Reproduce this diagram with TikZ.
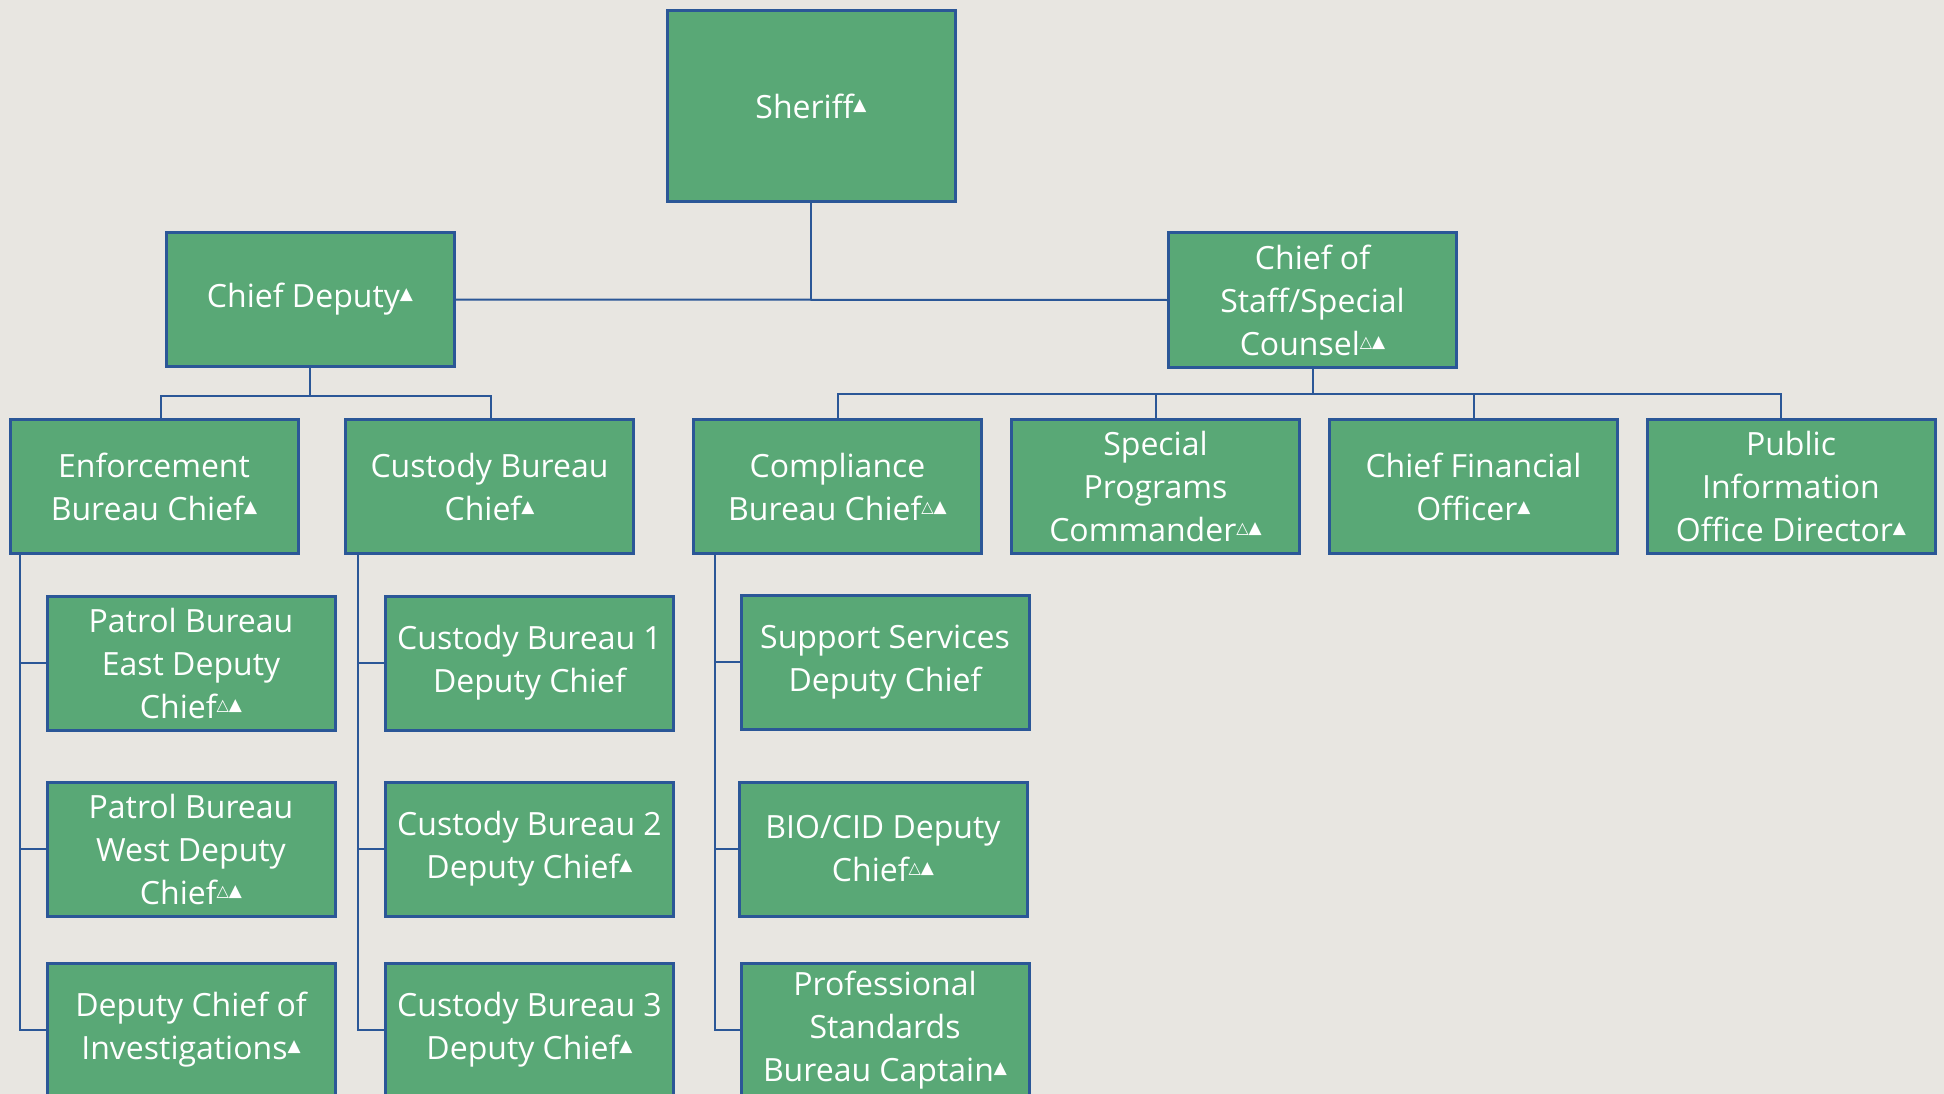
\documentclass[tikz,border=0pt]{standalone}
\usepackage{fontspec}
\setmainfont{Open Sans}
\newfontfamily\symfont{DejaVu Sans}
\definecolor{bg}{HTML}{E8E6E1}
\definecolor{boxgreen}{HTML}{59A876}
\definecolor{edgeblue}{HTML}{2B5797}
\newcommand{\ftri}{\raisebox{8pt}[0pt][0pt]{\symfont\fontsize{17}{17}\selectfont ▲}}
\newcommand{\otri}{\raisebox{8pt}[0pt][0pt]{\symfont\fontsize{16}{16}\selectfont △}}
\begin{document}
\begin{tikzpicture}[x=1pt,y=-1pt,
  orgbox/.style={draw=edgeblue, line width=3pt, fill=boxgreen, text=white,
    minimum width=288pt, minimum height=134pt, align=center, inner sep=0pt,
    font=\fontsize{32}{43}\selectfont},
  link/.style={draw=edgeblue, line width=2pt}]
\fill[bg] (0,0) rectangle (1944,1094);
\useasboundingbox (0,0) rectangle (1944,1094);
% level 0/1
\node[orgbox, minimum height=191pt] (sheriff) at (811,106.5) {Sheriff\ftri};
\node[orgbox] (cd) at (310,299.5) {Chief Deputy\ftri};
\node[orgbox] (cos) at (1312.5,300) {Chief of\\Staff/Special\\Counsel\otri\ftri};
% level 2
\node[orgbox] (enf) at (154,486.5) {Enforcement\\Bureau Chief\ftri};
\node[orgbox] (cust) at (489.5,486.5) {Custody Bureau\\Chief\ftri};
\node[orgbox] (comp) at (837.5,486.5) {Compliance\\Bureau Chief\otri\ftri};
\node[orgbox] (spec) at (1155.5,486.5) {Special\\Programs\\Commander\otri\ftri};
\node[orgbox] (cfo) at (1473.5,486.5) {Chief Financial\\Officer\ftri};
\node[orgbox] (pio) at (1791,486.5) {Public\\Information\\Office Director\ftri};
% level 3
\node[orgbox] (pe) at (191,663) {Patrol Bureau\\East Deputy\\Chief\otri\ftri};
\node[orgbox] (pw) at (191,849) {Patrol Bureau\\West Deputy\\Chief\otri\ftri};
\node[orgbox] (dci) at (191,1030) {Deputy Chief of\\Investigations\ftri};
\node[orgbox] (c1) at (529.5,663) {Custody Bureau 1\\Deputy Chief};
\node[orgbox] (c2) at (529.5,849) {Custody Bureau 2\\Deputy Chief\ftri};
\node[orgbox] (c3) at (529.5,1030) {Custody Bureau 3\\Deputy Chief\ftri};
\node[orgbox] (ss) at (885,662) {Support Services\\Deputy Chief};
\node[orgbox] (bio) at (883,849) {BIO/CID Deputy\\Chief\otri\ftri};
\node[orgbox] (ps) at (885,1030) {Professional\\Standards\\Bureau Captain\ftri};
% coordinates
\coordinate (cdbus) at (310,396);
\coordinate (cosbus) at (1312.5,394);
\coordinate (et) at (20,554);
\coordinate (ct) at (358,554);
\coordinate (mt) at (715,554);
% connectors
\draw[link] (cd.east) -- (cos.west);
\draw[link] (sheriff.south) -- (sheriff.south |- cd.east);
\draw[link] (cd.south) -- (cdbus);
\draw[link] ([xshift=7pt]enf.north) |- (cdbus) -| ([xshift=1pt]cust.north);
\draw[link] (cos.south) -- (cosbus);
\draw[link] (comp.north) |- (cosbus) -| ([xshift=-10pt]pio.north);
\draw[link] (spec.north) -- (spec.north |- cosbus);
\draw[link] (cfo.north) -- (cfo.north |- cosbus);
\draw[link] (et) |- (dci.west);
\draw[link] (et |- pe.west) -- (pe.west);
\draw[link] (et |- pw.west) -- (pw.west);
\draw[link] (ct) |- (c3.west);
\draw[link] (ct |- c1.west) -- (c1.west);
\draw[link] (ct |- c2.west) -- (c2.west);
\draw[link] (mt) |- (ps.west);
\draw[link] (mt |- ss.west) -- (ss.west);
\draw[link] (mt |- bio.west) -- (bio.west);
\end{tikzpicture}
\end{document}
